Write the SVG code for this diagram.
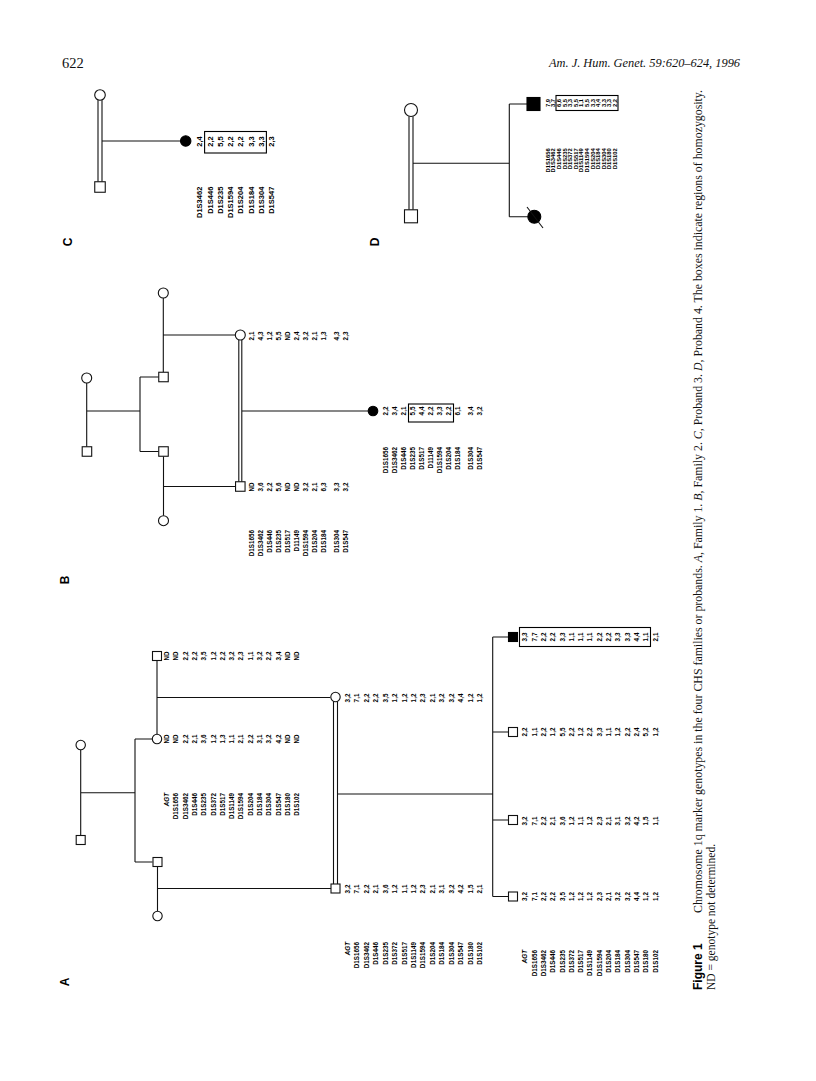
<svg xmlns="http://www.w3.org/2000/svg" width="816" height="1081" viewBox="0 0 816 1081">
<style>
.ln{stroke:#111;stroke-width:1.1;fill:none}
.sym{fill:#fff;stroke:#111;stroke-width:1.1}
.aff{fill:#000;stroke:#000;stroke-width:1.1}
.box{fill:none;stroke:#000;stroke-width:1.1}
.t{font-family:"Liberation Sans",Arial,sans-serif;font-weight:bold;fill:#000}
.a{font-size:6.3px}
.c{font-size:7.5px}
.d{font-size:5.8px}
.it{font-style:italic}
.pl{font-family:"Liberation Sans",Arial,sans-serif;font-weight:bold;font-size:12px;fill:#000}
.serif{font-family:"Liberation Serif","Times New Roman",serif;fill:#111}
</style>
<rect width="816" height="1081" fill="#fff"/>

<text class="serif" x="62" y="68" font-size="14.5">622</text>
<text class="serif" x="549" y="67" font-size="13" font-style="italic" textLength="191" lengthAdjust="spacingAndGlyphs">Am. J. Hum. Genet. 59:620–624, 1996</text>

<!-- panel labels -->
<text class="pl" transform="translate(69.3,982) rotate(-90)" text-anchor="middle">A</text>
<text class="pl" transform="translate(69.3,580) rotate(-90)" text-anchor="middle">B</text>
<text class="pl" transform="translate(72.3,242) rotate(-90)" text-anchor="middle">C</text>
<text class="pl" transform="translate(379.3,242) rotate(-90)" text-anchor="middle">D</text>

<!-- caption -->
<text class="pl" transform="translate(701.7,990) rotate(-90)" font-size="12">Figure 1</text>
<text class="serif" transform="translate(701.7,913) rotate(-90)" font-size="11.5" textLength="823" lengthAdjust="spacingAndGlyphs">Chromosome 1q marker genotypes in the four CHS families or probands. <tspan font-style="italic">A</tspan>, Family 1. <tspan font-style="italic">B</tspan>, Family 2. <tspan font-style="italic">C</tspan>, Proband 3. <tspan font-style="italic">D</tspan>, Proband 4. The boxes indicate regions of homozygosity.</text>
<text class="serif" transform="translate(715,990) rotate(-90)" font-size="11.5">ND = genotype not determined.</text>

<!-- connectors -->
<g id="connectors">
  <!-- A -->
  <path class="ln" d="M80.7,749.7V835.5 M80.7,792.7H135 M135,739V862 M135,739H152.3 M135,862H152.5"/>
  <path class="ln" d="M157,660.5V734.3 M157,697.5H330.3 M157.5,866.5V911.3 M157.5,888.5H331.5"/>
  <path class="ln" d="M333.5,701.5V884 M337.5,701.5V884 M337.5,794H492.7 M492.7,637V896.5 M492.7,637H508.5 M492.7,732H508.5 M492.7,820H508.5 M492.7,896.5H508.5"/>
  <!-- B -->
  <path class="ln" d="M86.7,383V446.75 M86.7,411H140 M140,377V451.5 M140,377H158.75 M140,451.5H158.75"/>
  <path class="ln" d="M163.3,298V372.25 M163.3,335H235.3 M163.5,456.25V515.7 M163.5,486.5H235.55"/>
  <path class="ln" d="M238.8,340V481.75 M241.8,340V481.75 M241.8,411H368.2"/>
  <!-- C -->
  <path class="ln" d="M98,100.3V181.75 M102,100.3V181.75 M102,141H180.5"/>
  <!-- D -->
  <path class="ln" d="M409,116.5V209.8 M413,116.5V209.8 M413,163.3H509.3 M509.3,104V216.7 M509.3,104H527 M509.3,216.7H527.8"/>
</g>

<!-- ===== Panel A ===== -->
<g id="A-grandmother"><circle class="sym" cx="80.7" cy="745" r="4.7"/></g>
<g id="A-grandfather"><rect class="sym" x="76.2" y="835.5" width="9" height="9"/></g>
<g id="A-II-husband">
  <rect class="sym" x="152.5" y="651.5" width="9" height="9"/>
  <text class="t a" transform="rotate(-90)" text-anchor="middle"><tspan x="-656" y="169.0">ND</tspan><tspan x="-656" y="178.3">ND</tspan><tspan x="-656" y="187.6">2,2</tspan><tspan x="-656" y="196.9">2,2</tspan><tspan x="-656" y="206.2">3,5</tspan><tspan x="-656" y="215.5">1,2</tspan><tspan x="-656" y="224.8">2,2</tspan><tspan x="-656" y="234.1">3,2</tspan><tspan x="-656" y="243.4">2,3</tspan><tspan x="-656" y="252.7">1,1</tspan><tspan x="-656" y="262.0">3,2</tspan><tspan x="-656" y="271.3">2,2</tspan><tspan x="-656" y="280.6">3,4</tspan><tspan x="-656" y="289.9">ND</tspan><tspan x="-656" y="299.2">ND</tspan></text>
</g>
<g id="A-II-daughter">
  <circle class="sym" cx="157" cy="739" r="4.7"/>
  <text class="t a" transform="rotate(-90)" text-anchor="middle"><tspan x="-739" y="169.0">ND</tspan><tspan x="-739" y="178.3">ND</tspan><tspan x="-739" y="187.6">2,2</tspan><tspan x="-739" y="196.9">2,1</tspan><tspan x="-739" y="206.2">3,6</tspan><tspan x="-739" y="215.5">1,2</tspan><tspan x="-739" y="224.8">1,3</tspan><tspan x="-739" y="234.1">1,1</tspan><tspan x="-739" y="243.4">2,1</tspan><tspan x="-739" y="252.7">2,2</tspan><tspan x="-739" y="262.0">3,1</tspan><tspan x="-739" y="271.3">3,2</tspan><tspan x="-739" y="280.6">4,2</tspan><tspan x="-739" y="289.9">ND</tspan><tspan x="-739" y="299.2">ND</tspan></text>
</g>
<g id="A-II-markers">
  <text class="t a" transform="rotate(-90)" text-anchor="end"><tspan x="-793" y="169.0" class="it">AGT</tspan><tspan x="-793" y="178.3">D1S1656</tspan><tspan x="-793" y="187.6">D1S3462</tspan><tspan x="-793" y="196.9">D1S446</tspan><tspan x="-793" y="206.2">D1S235</tspan><tspan x="-793" y="215.5">D1S372</tspan><tspan x="-793" y="224.8">D1S517</tspan><tspan x="-793" y="234.1">D1S1149</tspan><tspan x="-793" y="243.4">D1S1594</tspan><tspan x="-793" y="252.7">D1S204</tspan><tspan x="-793" y="262.0">D1S184</tspan><tspan x="-793" y="271.3">D1S304</tspan><tspan x="-793" y="280.6">D1S547</tspan><tspan x="-793" y="289.9">D1S180</tspan><tspan x="-793" y="299.2">D1S102</tspan></text>
</g>
<g id="A-II-son"><rect class="sym" x="153" y="857.5" width="9" height="9"/></g>
<g id="A-II-sonwife"><circle class="sym" cx="157.5" cy="916" r="4.7"/></g>

<g id="A-III-mother">
  <circle class="sym" cx="335.5" cy="697" r="4.7"/>
  <text class="t a" transform="rotate(-90)" text-anchor="middle"><tspan x="-698" y="349.8">3,2</tspan><tspan x="-698" y="359.3">7,1</tspan><tspan x="-698" y="368.7">2,2</tspan><tspan x="-698" y="378.2">2,2</tspan><tspan x="-698" y="387.6">3,5</tspan><tspan x="-698" y="397.1">1,2</tspan><tspan x="-698" y="406.5">1,2</tspan><tspan x="-698" y="416.0">1,2</tspan><tspan x="-698" y="425.4">2,3</tspan><tspan x="-698" y="434.9">2,1</tspan><tspan x="-698" y="444.3">3,2</tspan><tspan x="-698" y="453.8">3,2</tspan><tspan x="-698" y="463.2">4,4</tspan><tspan x="-698" y="472.7">1,2</tspan><tspan x="-698" y="482.1">1,2</tspan></text>
</g>
<g id="A-III-father">
  <rect class="sym" x="331" y="884" width="9" height="9"/>
  <text class="t a" transform="rotate(-90)" text-anchor="middle"><tspan x="-889" y="349.8">3,2</tspan><tspan x="-889" y="359.3">7,1</tspan><tspan x="-889" y="368.7">2,2</tspan><tspan x="-889" y="378.2">2,1</tspan><tspan x="-889" y="387.6">3,6</tspan><tspan x="-889" y="397.1">1,2</tspan><tspan x="-889" y="406.5">1,1</tspan><tspan x="-889" y="416.0">1,2</tspan><tspan x="-889" y="425.4">2,3</tspan><tspan x="-889" y="434.9">2,1</tspan><tspan x="-889" y="444.3">3,1</tspan><tspan x="-889" y="453.8">3,2</tspan><tspan x="-889" y="463.2">4,2</tspan><tspan x="-889" y="472.7">1,5</tspan><tspan x="-889" y="482.1">2,1</tspan></text>
</g>
<g id="A-III-markers">
  <text class="t a" transform="rotate(-90)" text-anchor="end"><tspan x="-942" y="349.8" class="it">AGT</tspan><tspan x="-942" y="359.3">D1S1656</tspan><tspan x="-942" y="368.7">D1S3462</tspan><tspan x="-942" y="378.2">D1S446</tspan><tspan x="-942" y="387.6">D1S235</tspan><tspan x="-942" y="397.1">D1S372</tspan><tspan x="-942" y="406.5">D1S517</tspan><tspan x="-942" y="416.0">D1S1149</tspan><tspan x="-942" y="425.4">D1S1594</tspan><tspan x="-942" y="434.9">D1S204</tspan><tspan x="-942" y="444.3">D1S184</tspan><tspan x="-942" y="453.8">D1S304</tspan><tspan x="-942" y="463.2">D1S547</tspan><tspan x="-942" y="472.7">D1S180</tspan><tspan x="-942" y="482.1">D1S102</tspan></text>
</g>

<g id="A-IV-proband">
  <rect class="aff" x="508.5" y="632.5" width="9" height="9"/>
  <rect class="box" x="519.5" y="627.5" width="131" height="19"/>
  <text class="t a" transform="rotate(-90)" text-anchor="middle"><tspan x="-637" y="527.3">3,3</tspan><tspan x="-637" y="536.6">7,7</tspan><tspan x="-637" y="545.9">2,2</tspan><tspan x="-637" y="555.2">2,2</tspan><tspan x="-637" y="564.5">3,3</tspan><tspan x="-637" y="573.8">1,1</tspan><tspan x="-637" y="583.1">1,1</tspan><tspan x="-637" y="592.4">1,1</tspan><tspan x="-637" y="601.7">2,2</tspan><tspan x="-637" y="611.0">2,2</tspan><tspan x="-637" y="620.3">3,3</tspan><tspan x="-637" y="629.6">3,3</tspan><tspan x="-637" y="638.9">4,4</tspan><tspan x="-637" y="648.2">1,1</tspan><tspan x="-637" y="657.5">2,1</tspan></text>
</g>
<g id="A-IV-sib2">
  <rect class="sym" x="508.5" y="727.5" width="9" height="9"/>
  <text class="t a" transform="rotate(-90)" text-anchor="middle"><tspan x="-732" y="527.3">2,2</tspan><tspan x="-732" y="536.6">1,1</tspan><tspan x="-732" y="545.9">2,2</tspan><tspan x="-732" y="555.2">1,2</tspan><tspan x="-732" y="564.5">5,5</tspan><tspan x="-732" y="573.8">2,2</tspan><tspan x="-732" y="583.1">1,2</tspan><tspan x="-732" y="592.4">2,2</tspan><tspan x="-732" y="601.7">3,3</tspan><tspan x="-732" y="611.0">1,1</tspan><tspan x="-732" y="620.3">1,2</tspan><tspan x="-732" y="629.6">2,2</tspan><tspan x="-732" y="638.9">2,4</tspan><tspan x="-732" y="648.2">5,2</tspan><tspan x="-732" y="657.5">1,2</tspan></text>
</g>
<g id="A-IV-sib3">
  <rect class="sym" x="508.5" y="815.5" width="9" height="9"/>
  <text class="t a" transform="rotate(-90)" text-anchor="middle"><tspan x="-821" y="527.3">3,2</tspan><tspan x="-821" y="536.6">7,1</tspan><tspan x="-821" y="545.9">2,2</tspan><tspan x="-821" y="555.2">2,1</tspan><tspan x="-821" y="564.5">3,6</tspan><tspan x="-821" y="573.8">1,2</tspan><tspan x="-821" y="583.1">1,1</tspan><tspan x="-821" y="592.4">1,2</tspan><tspan x="-821" y="601.7">2,3</tspan><tspan x="-821" y="611.0">2,1</tspan><tspan x="-821" y="620.3">3,1</tspan><tspan x="-821" y="629.6">3,2</tspan><tspan x="-821" y="638.9">4,2</tspan><tspan x="-821" y="648.2">1,5</tspan><tspan x="-821" y="657.5">1,1</tspan></text>
</g>
<g id="A-IV-sib4">
  <rect class="sym" x="508.5" y="892" width="9" height="9"/>
  <text class="t a" transform="rotate(-90)" text-anchor="middle"><tspan x="-896.5" y="527.3">3,2</tspan><tspan x="-896.5" y="536.6">7,1</tspan><tspan x="-896.5" y="545.9">2,2</tspan><tspan x="-896.5" y="555.2">2,2</tspan><tspan x="-896.5" y="564.5">3,5</tspan><tspan x="-896.5" y="573.8">1,2</tspan><tspan x="-896.5" y="583.1">1,2</tspan><tspan x="-896.5" y="592.4">1,2</tspan><tspan x="-896.5" y="601.7">2,3</tspan><tspan x="-896.5" y="611.0">2,1</tspan><tspan x="-896.5" y="620.3">3,2</tspan><tspan x="-896.5" y="629.6">3,2</tspan><tspan x="-896.5" y="638.9">4,4</tspan><tspan x="-896.5" y="648.2">1,2</tspan><tspan x="-896.5" y="657.5">1,2</tspan></text>
</g>
<g id="A-IV-markers">
  <text class="t a" transform="rotate(-90)" text-anchor="end"><tspan x="-950" y="527.3" class="it">AGT</tspan><tspan x="-950" y="536.6">D1S1656</tspan><tspan x="-950" y="545.9">D1S3462</tspan><tspan x="-950" y="555.2">D1S446</tspan><tspan x="-950" y="564.5">D1S235</tspan><tspan x="-950" y="573.8">D1S372</tspan><tspan x="-950" y="583.1">D1S517</tspan><tspan x="-950" y="592.4">D1S1149</tspan><tspan x="-950" y="601.7">D1S1594</tspan><tspan x="-950" y="611.0">D1S204</tspan><tspan x="-950" y="620.3">D1S184</tspan><tspan x="-950" y="629.6">D1S304</tspan><tspan x="-950" y="638.9">D1S547</tspan><tspan x="-950" y="648.2">D1S180</tspan><tspan x="-950" y="657.5">D1S102</tspan></text>
</g>

<!-- ===== Panel B ===== -->
<g id="B-grandmother"><circle class="sym" cx="86.7" cy="378" r="5"/></g>
<g id="B-grandfather"><rect class="sym" x="82.2" y="446.75" width="9.5" height="9.5"/></g>
<g id="B-son1"><rect class="sym" x="158.75" y="372.25" width="9.5" height="9.5"/></g>
<g id="B-son1-wife"><circle class="sym" cx="163.3" cy="293" r="5"/></g>
<g id="B-son2"><rect class="sym" x="158.75" y="446.75" width="9.5" height="9.5"/></g>
<g id="B-son2-wife"><circle class="sym" cx="163.5" cy="520.7" r="5"/></g>
<g id="B-mother">
  <circle class="sym" cx="240.3" cy="335" r="5"/>
  <text class="t a" transform="rotate(-90)" text-anchor="middle"><tspan x="-336" y="254.3">2,1</tspan><tspan x="-336" y="263.3">4,3</tspan><tspan x="-336" y="272.3">1,2</tspan><tspan x="-336" y="281.3">5,5</tspan><tspan x="-336" y="290.3">ND</tspan><tspan x="-336" y="299.3">2,4</tspan><tspan x="-336" y="308.3">3,2</tspan><tspan x="-336" y="317.3">2,1</tspan><tspan x="-336" y="326.3">1,3</tspan><tspan x="-336" y="339.3">4,3</tspan><tspan x="-336" y="348.3">2,3</tspan></text>
</g>
<g id="B-father">
  <rect class="sym" x="235.55" y="481.75" width="9.5" height="9.5"/>
  <text class="t a" transform="rotate(-90)" text-anchor="middle"><tspan x="-487" y="254.3">ND</tspan><tspan x="-487" y="263.3">3,6</tspan><tspan x="-487" y="272.3">2,2</tspan><tspan x="-487" y="281.3">5,6</tspan><tspan x="-487" y="290.3">ND</tspan><tspan x="-487" y="299.3">ND</tspan><tspan x="-487" y="308.3">3,2</tspan><tspan x="-487" y="317.3">2,1</tspan><tspan x="-487" y="326.3">6,3</tspan><tspan x="-487" y="339.3">3,3</tspan><tspan x="-487" y="348.3">3,2</tspan></text>
</g>
<g id="B-parent-markers">
  <text class="t a" transform="rotate(-90)" text-anchor="end"><tspan x="-530" y="254.3">D1S1656</tspan><tspan x="-530" y="263.3">D1S3462</tspan><tspan x="-530" y="272.3">D1S446</tspan><tspan x="-530" y="281.3">D1S235</tspan><tspan x="-530" y="290.3">D1S517</tspan><tspan x="-530" y="299.3">D11149</tspan><tspan x="-530" y="308.3">D1S1594</tspan><tspan x="-530" y="317.3">D1S204</tspan><tspan x="-530" y="326.3">D1S184</tspan><tspan x="-530" y="339.3">D1S304</tspan><tspan x="-530" y="348.3">D1S547</tspan></text>
</g>
<g id="B-proband">
  <circle class="aff" cx="373" cy="411" r="4.8"/>
  <rect class="box" x="408.5" y="404" width="45" height="18"/>
  <text class="t a" transform="rotate(-90)" text-anchor="middle"><tspan x="-411" y="388.3">2,2</tspan><tspan x="-411" y="397.3">3,4</tspan><tspan x="-411" y="406.3">2,1</tspan><tspan x="-411" y="415.3">5,5</tspan><tspan x="-411" y="424.3">4,4</tspan><tspan x="-411" y="433.3">2,2</tspan><tspan x="-411" y="442.3">3,3</tspan><tspan x="-411" y="451.3">2,2</tspan><tspan x="-411" y="460.3">6,1</tspan><tspan x="-411" y="473.3">3,4</tspan><tspan x="-411" y="482.3">3,2</tspan></text>
  <text class="t a" transform="rotate(-90)" text-anchor="end"><tspan x="-447" y="388.3">D1S1656</tspan><tspan x="-447" y="397.3">D1S3462</tspan><tspan x="-447" y="406.3">D1S446</tspan><tspan x="-447" y="415.3">D1S235</tspan><tspan x="-447" y="424.3">D1S517</tspan><tspan x="-447" y="433.3">D11149</tspan><tspan x="-447" y="442.3">D1S1594</tspan><tspan x="-447" y="451.3">D1S204</tspan><tspan x="-447" y="460.3">D1S184</tspan><tspan x="-447" y="473.3">D1S304</tspan><tspan x="-447" y="482.3">D1S547</tspan></text>
</g>

<!-- ===== Panel C ===== -->
<g id="C-mother"><circle class="sym" cx="100" cy="95" r="5.3"/></g>
<g id="C-father"><rect class="sym" x="94.75" y="181.75" width="10.5" height="10.5"/></g>
<g id="C-proband">
  <circle class="aff" cx="185.7" cy="141" r="5.2"/>
  <rect class="box" x="204.6" y="131.5" width="61.8" height="21.5"/>
  <text class="t c" transform="rotate(-90)" text-anchor="middle"><tspan x="-141.5" y="202.2">2,4</tspan><tspan x="-141.5" y="212.5">2,2</tspan><tspan x="-141.5" y="222.8">5,5</tspan><tspan x="-141.5" y="233.1">2,2</tspan><tspan x="-141.5" y="243.4">2,2</tspan><tspan x="-141.5" y="253.7">3,3</tspan><tspan x="-141.5" y="264.0">3,3</tspan><tspan x="-141.5" y="274.3">2,3</tspan></text>
  <text class="t c" transform="rotate(-90)" text-anchor="end"><tspan x="-186.7" y="202.2">D1S3462</tspan><tspan x="-186.7" y="212.5">D1S446</tspan><tspan x="-186.7" y="222.8">D1S235</tspan><tspan x="-186.7" y="233.1">D1S1594</tspan><tspan x="-186.7" y="243.4">D1S204</tspan><tspan x="-186.7" y="253.7">D1S184</tspan><tspan x="-186.7" y="264.0">D1S304</tspan><tspan x="-186.7" y="274.3">D1S547</tspan></text>
</g>

<!-- ===== Panel D ===== -->
<g id="D-mother"><circle class="sym" cx="411" cy="110" r="6.5"/></g>
<g id="D-father"><rect class="sym" x="404.5" y="209.8" width="13" height="13"/></g>
<g id="D-proband">
  <rect class="aff" x="527" y="97.5" width="13" height="13"/>
  <rect class="box" x="556" y="95.5" width="62" height="15"/>
  <text class="t d" transform="rotate(-90)" text-anchor="middle"><tspan x="-103" y="549.8">7,9</tspan><tspan x="-103" y="555.4">3,7</tspan><tspan x="-103" y="561.0">6,6</tspan><tspan x="-103" y="566.6">5,5</tspan><tspan x="-103" y="572.2">3,3</tspan><tspan x="-103" y="577.8">5,5</tspan><tspan x="-103" y="583.4">1,1</tspan><tspan x="-103" y="589.0">5,5</tspan><tspan x="-103" y="594.6">3,3</tspan><tspan x="-103" y="600.2">4,4</tspan><tspan x="-103" y="605.8">3,3</tspan><tspan x="-103" y="611.4">3,3</tspan><tspan x="-103" y="617.0">2,2</tspan></text>
  <text class="t d" transform="rotate(-90)" text-anchor="end"><tspan x="-148.3" y="549.8">D1S1656</tspan><tspan x="-148.3" y="555.4">D1S3462</tspan><tspan x="-148.3" y="561.0">D1S446</tspan><tspan x="-148.3" y="566.6">D1S235</tspan><tspan x="-148.3" y="572.2">D1S372</tspan><tspan x="-148.3" y="577.8">D1S517</tspan><tspan x="-148.3" y="583.4">D1S1149</tspan><tspan x="-148.3" y="589.0">D1S1594</tspan><tspan x="-148.3" y="594.6">D1S204</tspan><tspan x="-148.3" y="600.2">D1S184</tspan><tspan x="-148.3" y="605.8">D1S304</tspan><tspan x="-148.3" y="611.4">D1S180</tspan><tspan x="-148.3" y="617.0">D1S102</tspan></text>
</g>
<g id="D-sister">
  <circle class="aff" cx="534.3" cy="216.7" r="6.5"/>
  <line class="ln" x1="527" y1="207" x2="543" y2="228"/>
</g>
</svg>
